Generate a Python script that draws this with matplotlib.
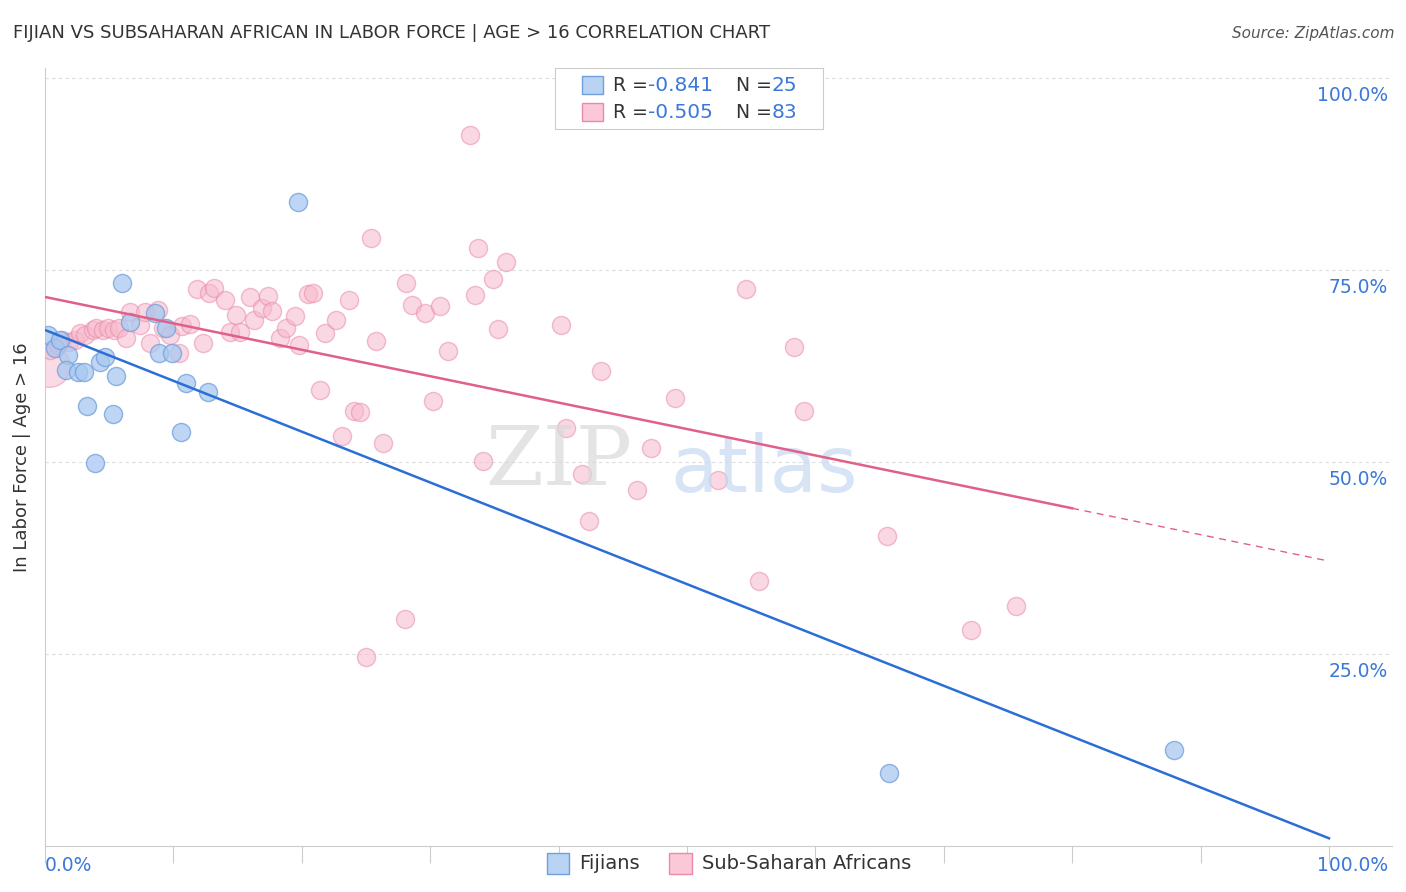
import matplotlib
matplotlib.use("Agg")
import matplotlib.pyplot as plt
import numpy as np

fij_px = [(47,335),(55,348),(60,340),(68,355),(66,370),(78,372),(84,372),(87,406),(95,463),(100,362),(105,357),(113,414),(116,376),(122,283),(130,322),(155,313),(160,353),(166,328),(172,353),(181,432),(186,383),(208,392),(298,202),(889,773),(1175,750)]
ssa_px = [(50,350),(58,345),(62,340),(70,342),(75,340),(80,333),(85,335),(92,330),(97,328),(103,330),(108,328),(115,330),(120,328),(126,338),(130,312),(140,325),(145,312),(150,343),(158,310),(163,328),(170,335),(178,353),(182,326),(190,324),(197,289),(203,343),(210,293),(215,288),(225,300),(230,332),(236,315),(240,332),(250,297),(255,320),(262,308),(268,296),(273,311),(280,338),(286,328),(295,316),(299,345),(308,294),(313,293),(320,390),(325,333),(337,320),(342,436),(350,300),(355,411),(360,412),(366,657),(372,238),(376,341),(383,443),(406,283),(405,619),(412,305),(426,313),(433,401),(441,306),(449,351),(470,135),(475,295),(478,248),(483,461),(493,279),(498,329),(506,262),(562,325),(567,428),(582,474),(590,521),(602,371),(638,490),(651,448),(676,398),(718,480),(747,289),(759,581),(794,347),(805,411),(888,536),(971,630),(1016,606)]
fij_x = [round((p[0]-45)/12.85,1) for p in fij_px]
fij_y = [round((846-p[1])/7.68,1) for p in fij_px]
ssa_x = [round((p[0]-45)/12.85,1) for p in ssa_px]
ssa_y = [round((846-p[1])/7.68,1) for p in ssa_px]

blue_line = (67.2, -0.662)   # intercept, slope
pink_line = (71.5, -0.344)

fig = plt.figure(figsize=(14.06,8.92), dpi=100)
ax = fig.add_axes([0.032,0.0516,0.958,0.872])
ax.set_xlim(0,104.9); ax.set_ylim(0,101.3)
for s in ['top','right']: ax.spines[s].set_visible(False)
ax.spines['left'].set_color('#cccccc'); ax.spines['bottom'].set_color('#cccccc')
for g in [25,50,75,100]:
    ax.axhline(g, color='#dddddd', ls=(0,(3,3)), lw=0.8, zorder=0)
    ax.text(104.6, g-2.3, f"{g:.1f}%", color='#3b78d8', fontsize=13.5, ha='right', va='center')
ax.set_yticks([])
ax.set_xticks(np.arange(0,101,10)); ax.set_xticklabels([])
ax.tick_params(axis='x', length=12, color='#cccccc', direction='out')
ax.text(0,-1.3,"0.0%",color='#3b78d8',fontsize=13.5,ha='left',va='top')
ax.text(104.6,-1.3,"100.0%",color='#3b78d8',fontsize=13.5,ha='right',va='top')
ax.set_ylabel("In Labor Force | Age > 16", fontsize=13, color='#333333', labelpad=10)

ax.scatter([0.3],[62.5], s=900, color='#f7b9cc', alpha=0.5, edgecolor='#e98aaa', zorder=2)
ax.scatter(ssa_x, ssa_y, s=170, color='#f7b9cc', alpha=0.55, edgecolor='#e98aaa', lw=1, zorder=3)
ax.scatter(fij_x, fij_y, s=170, color='#a9c8f0', alpha=0.75, edgecolor='#6f9fdc', lw=1, zorder=4)

xb = np.array([0,100]); ax.plot(xb, blue_line[0]+blue_line[1]*xb, color='#2b6fd6', lw=1.8, zorder=5)
xp = np.array([0,80]); ax.plot(xp, pink_line[0]+pink_line[1]*xp, color='#e0608a', lw=1.8, zorder=5)
xd = np.array([80,100]); ax.plot(xd, pink_line[0]+pink_line[1]*xd, color='#e0608a', lw=1, ls=(0,(5,4)), zorder=5)

ax.text(40,50,"ZIP",fontsize=60,color='#d9d9d9',ha='center',va='center',family='DejaVu Serif',alpha=0.7)
ax.text(56,49,"atlas",fontsize=56,color='#c5d9f2',ha='center',va='center',alpha=0.7)

fig.text(0.009,0.963,"FIJIAN VS SUBSAHARAN AFRICAN IN LABOR FORCE | AGE > 16 CORRELATION CHART",fontsize=13,color='#333333',va='center')
fig.text(0.992,0.963,"Source: ZipAtlas.com",fontsize=11,color='#555555',va='center',ha='right',style='italic')

# top legend
lb = fig.add_axes([0.395,0.855,0.19,0.069]); lb.set_xticks([]); lb.set_yticks([])
for s in lb.spines.values(): s.set_color('#cccccc')
lb.set_xlim(0,1); lb.set_ylim(0,1)
for yy,fc,ec,r,n in [(0.72,'#b9d3f3','#6f9fdc','-0.841','25'),(0.28,'#fcc8d7','#e98aaa','-0.505','83')]:
    lb.add_patch(plt.Rectangle((0.1,yy-0.14),0.08,0.28,fc=fc,ec=ec))
    lb.text(0.215,yy,"R =",fontsize=13.5,color='#333333',va='center')
    lb.text(0.345,yy,r,fontsize=14.5,color='#3b78d8',va='center')
    lb.text(0.675,yy,"N =",fontsize=13.5,color='#333333',va='center')
    lb.text(0.81,yy,n,fontsize=14.5,color='#3b78d8',va='center')

# bottom legend
fig.patches.append(plt.Rectangle((0.389,0.020),0.016,0.024,fc='#b9d3f3',ec='#6f9fdc',transform=fig.transFigure))
fig.text(0.412,0.032,"Fijians",fontsize=14,color='#333333',va='center')
fig.patches.append(plt.Rectangle((0.476,0.020),0.016,0.024,fc='#fcc8d7',ec='#e98aaa',transform=fig.transFigure))
fig.text(0.499,0.032,"Sub-Saharan Africans",fontsize=14,color='#333333',va='center')
fig.savefig("out.png", dpi=100)
